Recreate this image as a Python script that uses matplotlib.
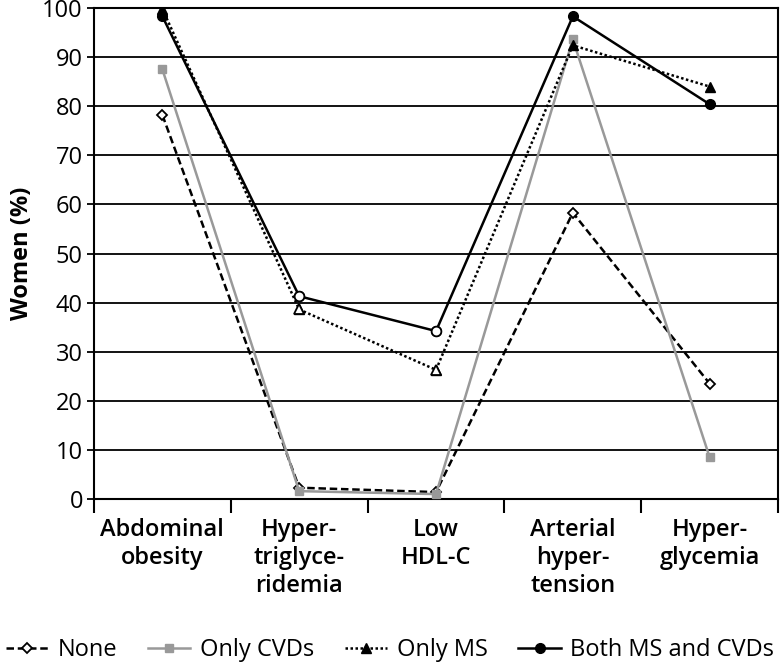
import numpy as np
import matplotlib.pyplot as plt

categories = ['Abdominal\nobesity', 'Hyper-\ntriglyce-\nridemia', 'Low\nHDL-C',
              'Arterial\nhyper-\ntension', 'Hyper-\nglycemia']
none_vals = [78.2, 2.3, 1.4, 58.3, 23.5]
only_cvd = [87.5, 1.6, 1.0, 93.6, 8.5]
only_ms = [99.8, 38.6, 26.3, 92.4, 84.0]
both = [98.3, 41.3, 34.2, 98.3, 80.4]

plt.rcParams['font.family'] = ['Open Sans', 'DejaVu Sans']

fig = plt.figure(figsize=(7.8, 6.68), dpi=100)
ax = fig.add_axes([0.1205, 0.253, 0.877, 0.735])

x = np.arange(len(categories)) + 0.5
lw = 1.8

ax.plot(x, none_vals, color='black', ls=(0, (3, 1.5)), lw=lw, marker='D', ms=5,
        mfc='white', mec='black', mew=1.3, label='None', zorder=3)
ax.plot(x, only_cvd, color='#999999', ls='-', lw=lw, marker='s', ms=6,
        mfc='#999999', mec='#999999', label='Only CVDs', zorder=3)
ax.plot(x, only_ms, color='black', ls=(0, (1, 1)), lw=lw, marker='^', ms=7,
        mfc='black', mec='black', label='Only MS', zorder=4)
ax.plot(x, both, color='black', ls='-', lw=lw, marker='o', ms=7,
        mfc='black', mec='black', label='Both MS and CVDs', zorder=5)

# open markers on the middle two categories
open_idx = [1, 2]
ax.plot(x[open_idx], [only_ms[i] for i in open_idx], ls='none', marker='^', ms=7,
        mfc='white', mec='black', mew=1.3, zorder=6)
ax.plot(x[open_idx], [both[i] for i in open_idx], ls='none', marker='o', ms=7,
        mfc='white', mec='black', mew=1.3, zorder=6)

ax.set_xlim(0, 5)
ax.set_ylim(0, 100)
ax.set_yticks(range(0, 101, 10))
ax.yaxis.grid(True, color='black', lw=1.3)
ax.set_axisbelow(True)
for s in ax.spines.values():
    s.set_linewidth(1.5)
ax.tick_params(axis='y', labelsize=17, length=5, width=1.3, pad=3)

ax.set_xticks(x)
ax.set_xticklabels(categories, fontsize=17, fontweight='semibold')
ax.tick_params(axis='x', length=0, pad=14)
ax.set_xticks(np.arange(0, 6), minor=True)
ax.tick_params(axis='x', which='minor', length=10, width=1.5)

ax.set_ylabel('Women (%)', fontsize=17, fontweight='bold', labelpad=6)

fig.legend(loc='center', bbox_to_anchor=(0.5, 0.027), ncol=4, frameon=False,
           fontsize=17, handlelength=1.8, columnspacing=1.3, handletextpad=0.4,
           borderpad=0, borderaxespad=0)

fig.savefig('out.png', dpi=100)
